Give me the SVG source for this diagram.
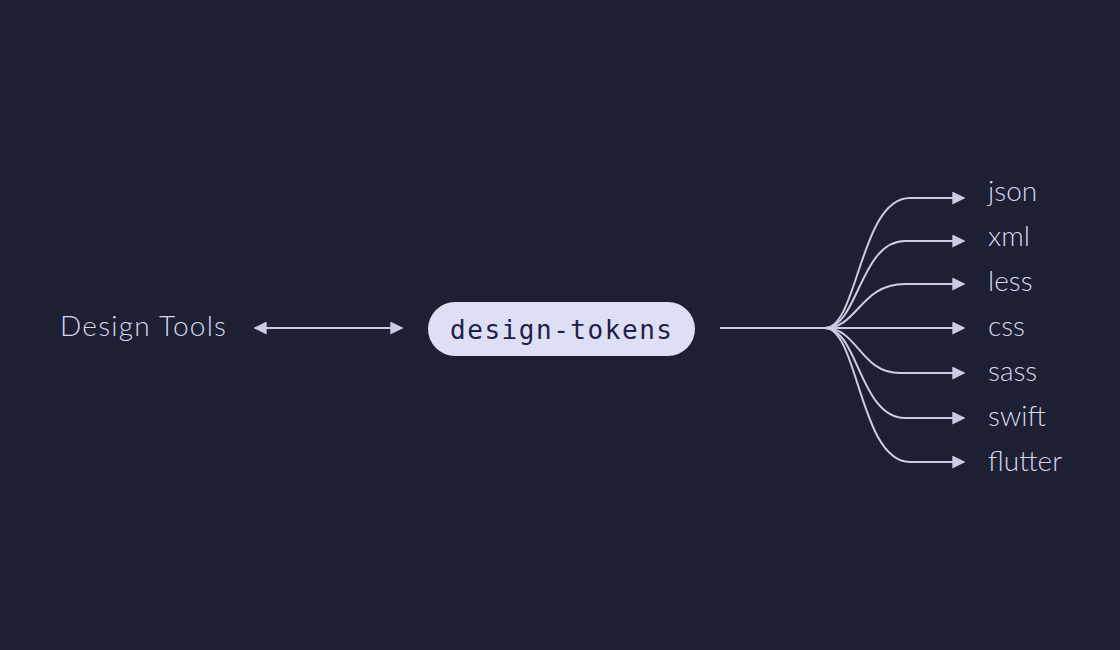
<svg xmlns="http://www.w3.org/2000/svg" width="1120" height="650" viewBox="0 0 1120 650">
<style>
.lbl{font-family:"Lato","Open Sans","Liberation Sans",sans-serif;font-weight:300;font-size:28px;fill:#d4d7ec}
.ln{fill:none;stroke:#c9cce2;stroke-width:2}
.mono{font-family:"DejaVu Sans Mono","Liberation Mono",monospace;font-size:26px;fill:#1f2147}
</style>
<defs>
<marker id="ah" viewBox="0 0 10 10" refX="9" refY="5" markerWidth="6.5" markerHeight="6.5" orient="auto-start-reverse" markerUnits="strokeWidth">
<path d="M0,0 L10,5 L0,10 z" fill="#c9cce2"/>
</marker>
</defs>
<rect width="1120" height="650" fill="#1d1f33"/>
<g id="connectors">
<path class="ln" d="M255,328 H402" marker-start="url(#ah)" marker-end="url(#ah)"/>
<path class="ln" d="M720,328 H825"/>
<path class="ln" d="M825,328 C858,328 860,198 910,198 H964" marker-end="url(#ah)"/>
<path class="ln" d="M825,328 C858,328 860,241 905,241 H964" marker-end="url(#ah)"/>
<path class="ln" d="M825,328 C858,328 860,284 905,284 H964" marker-end="url(#ah)"/>
<path class="ln" d="M825,328 H964" marker-end="url(#ah)"/>
<path class="ln" d="M825,328 C858,328 860,373 900,373 H964" marker-end="url(#ah)"/>
<path class="ln" d="M825,328 C858,328 860,418 905,418 H964" marker-end="url(#ah)"/>
<path class="ln" d="M825,328 C858,328 860,462 910,462 H964" marker-end="url(#ah)"/>
</g>
<g id="design-tools"><text class="lbl" x="60" y="336" textLength="166">Design Tools</text></g>
<g id="design-tokens">
<rect x="428" y="302" width="267" height="54" rx="27" fill="#dde0f5"/>
<text class="mono" x="450" y="339" textLength="222">design-tokens</text>
</g>
<g id="json"><text class="lbl" x="988" y="201">json</text></g>
<g id="xml"><text class="lbl" x="988" y="246">xml</text></g>
<g id="less"><text class="lbl" x="988" y="291">less</text></g>
<g id="css"><text class="lbl" x="988" y="336">css</text></g>
<g id="sass"><text class="lbl" x="988" y="381">sass</text></g>
<g id="swift"><text class="lbl" x="988" y="426">swift</text></g>
<g id="flutter"><text class="lbl" x="988" y="471">flutter</text></g>
</svg>
